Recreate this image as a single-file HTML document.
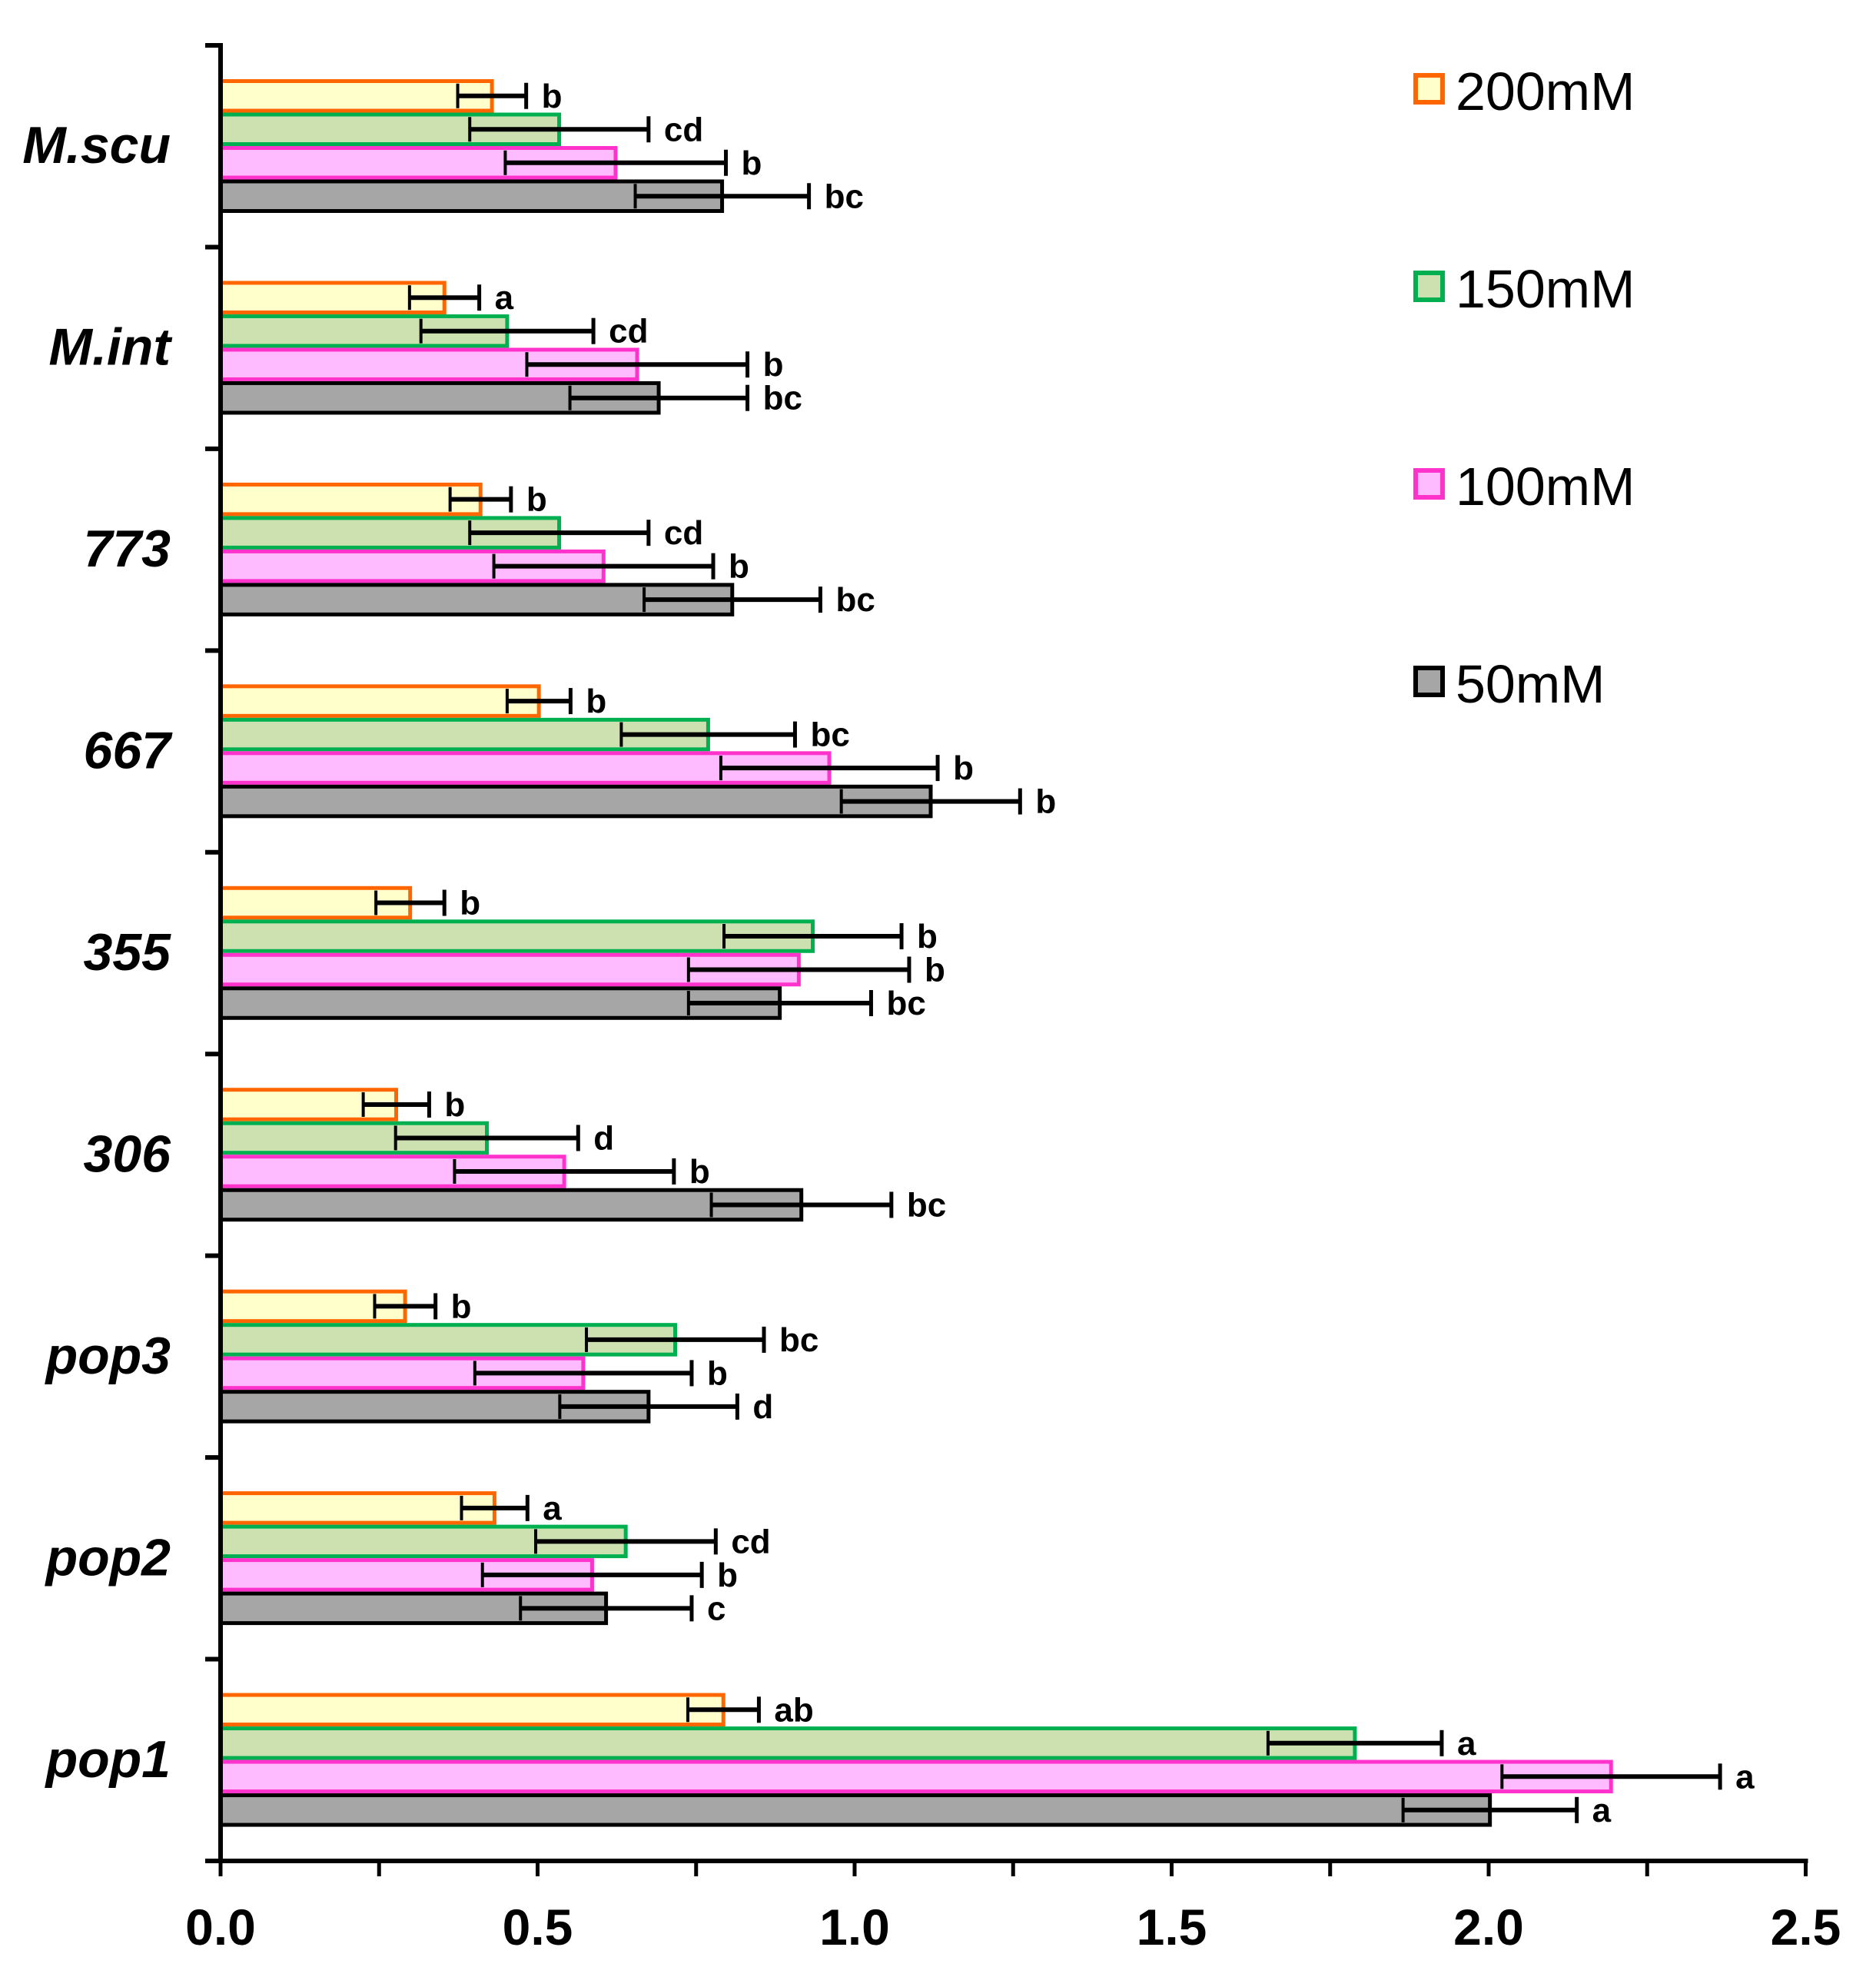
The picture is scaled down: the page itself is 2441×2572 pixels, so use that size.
<!DOCTYPE html>
<html><head><meta charset="utf-8"><style>
html,body{margin:0;padding:0;background:#fff;}
svg{display:block;}
text{font-family:"Liberation Sans",Arial,sans-serif;}
</style></head><body>
<svg id="chart" width="2441" height="2572" viewBox="0 0 2441 2572" xmlns="http://www.w3.org/2000/svg"></svg>
<script>
const categories = ["M.scu","M.int","773","667","355","306","pop3","pop2","pop1"];
const seriesNames = ["200mM","150mM","100mM","50mM"];
const v200 = [0.428,0.353,0.41,0.502,0.299,0.277,0.291,0.432,0.793];
const v150 = [0.534,0.452,0.534,0.769,0.934,0.42,0.717,0.639,1.789];
const v100 = [0.623,0.657,0.604,0.96,0.912,0.542,0.572,0.586,2.193];
const v50  = [0.791,0.691,0.807,1.12,0.882,0.916,0.675,0.608,2.002];
const e200 = [0.054,0.055,0.048,0.05,0.054,0.052,0.048,0.052,0.056];
const e150 = [0.141,0.136,0.141,0.137,0.14,0.144,0.14,0.142,0.137];
const e100 = [0.174,0.174,0.173,0.171,0.174,0.173,0.171,0.173,0.172];
const e50  = [0.137,0.14,0.139,0.141,0.144,0.142,0.14,0.135,0.137];
const l200 = ["b","a","b","b","b","b","b","a","ab"];
const l150 = ["cd","cd","cd","bc","b","d","bc","cd","a"];
const l100 = ["b","b","b","b","b","b","b","b","a"];
const l50  = ["bc","bc","bc","b","bc","bc","d","c","a"];
const xTicks = [0,0.5,1.0,1.5,2.0,2.5];
const xTickLabels = ["0.0","0.5","1.0","1.5","2.0","2.5"];

const values=[v200,v150,v100,v50], errs=[e200,e150,e100,e50], letters=[l200,l150,l100,l50];
const fills=["#ffffcc","#cce0b0","#ffbbff","#a6a6a6"];
const strokes=["#ff6600","#00b050","#ff33cc","#000000"];
const NS="http://www.w3.org/2000/svg";
const svg=document.getElementById("chart");
const X0=287, XPX=825, YTOP=59, YBOT=2421;
const band=(YBOT-YTOP)/categories.length;
const barH=43.5;
const xs=v=>X0+v*XPX;
const ys=i=>YTOP+i*band;
function mk(tag,attrs,parent){const e=document.createElementNS(NS,tag);for(const k in attrs)e.setAttribute(k,attrs[k]);(parent||svg).appendChild(e);return e;}

categories.forEach((c,i)=>{
  const g=mk("g",{});
  
  
  for(let s=0;s<4;s++){
    const y=ys(i)+44+s*barH;
    const v=values[s][i], e=errs[s][i];
    const r=mk("rect",{x:X0,y:y+2.5,width:xs(v)-X0,height:barH-5,fill:fills[s],stroke:strokes[s],"stroke-width":5},g);
    
    
    const cy=y+barH/2;
    const eb=mk("g",{stroke:"#000","stroke-width":6},g);
    
    
    mk("line",{x1:xs(v-e),x2:xs(v+e),y1:cy,y2:cy},eb);
    mk("line",{x1:xs(v-e),x2:xs(v-e),y1:cy-16,y2:cy+16,"stroke-width":4},eb);
    mk("line",{x1:xs(v+e),x2:xs(v+e),y1:cy-17,y2:cy+17,"stroke-width":5},eb);
    const t=mk("text",{x:xs(v+e)+20,y:cy+15,"font-size":44,"font-weight":"bold",fill:"#000"},g);
    t.textContent=letters[s][i];
    
    
  }
  const lb=mk("text",{x:222,y:ys(i)+band/2+22,"font-size":68,"font-style":"italic","font-weight":"bold","text-anchor":"end",fill:"#000"});
  lb.textContent=c;
  
  
});

const ya=mk("g",{stroke:"#000","stroke-width":6});


mk("line",{x1:X0,x2:X0,y1:YTOP-3,y2:YBOT+3},ya);
for(let i=0;i<=categories.length;i++){mk("line",{x1:X0-20,x2:X0,y1:ys(i),y2:ys(i)},ya);}

const xa=mk("g",{stroke:"#000","stroke-width":6});


mk("line",{x1:X0-20,x2:xs(2.5)+3,y1:YBOT,y2:YBOT},xa);
for(let k=0;k<=10;k++){const v=k*0.25;mk("line",{x1:xs(v),x2:xs(v),y1:YBOT,y2:YBOT+20,"stroke-width":5},xa);}
xTicks.forEach((v,k)=>{
  const t=mk("text",{x:xs(v),y:2530,"font-size":66,"font-weight":"bold","text-anchor":"middle",fill:"#000"});
  t.textContent=xTickLabels[k];
  
  
});

seriesNames.forEach((n,s)=>{
  const g=mk("g",{});
  
  
  const base=143+s*257;
  mk("rect",{x:1842,y:base-45,width:35,height:35,fill:fills[s],stroke:strokes[s],"stroke-width":6},g);
  const t=mk("text",{x:1894,y:base,"font-size":70,fill:"#000"},g);
  t.textContent=n;
});
</script>
</body></html>
